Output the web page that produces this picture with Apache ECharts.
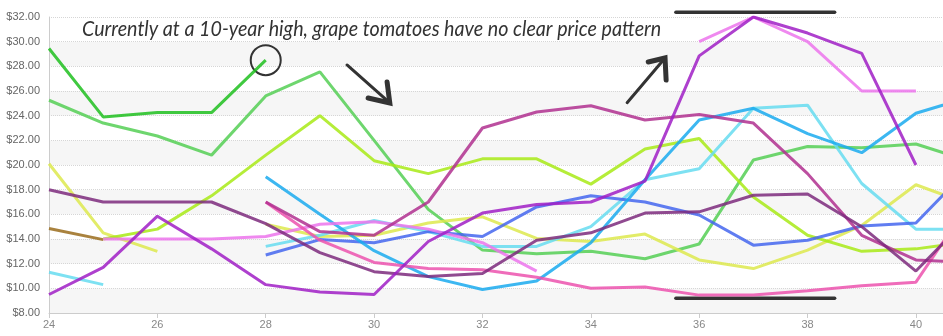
<!DOCTYPE html>
<html>
<head>
<meta charset="utf-8">
<script src="https://cdn.jsdelivr.net/npm/echarts@6/dist/echarts.min.js"></script>
<style>
html,body{margin:0;padding:0;background:#fff;}
#chart{width:943px;height:336px;}
</style>
</head>
<body>
<div id="chart"></div>
<script>
// ---- data ----
var weeks = [24,25,26,27,28,29,30,31,32,33,34,35,36,37,38,39,40,41];
var xTicks = [24,26,28,30,32,34,36,38,40];
var yTicks = [8,10,12,14,16,18,20,22,24,26,28,30,32];

var darkGreen  = [29.45,23.9,24.25,24.25,28.5,null,null,null,null,null,null,null,null,null,null,null,null,null];
var green      = [25.25,23.4,22.35,20.8,25.6,27.55,22.0,16.4,13.1,12.8,13.0,12.4,13.6,20.4,21.5,21.4,21.7,20.3];
var lime       = [null,14.0,14.8,17.5,20.8,24.0,20.35,19.3,20.5,20.5,18.45,21.3,22.15,17.4,14.3,13.0,13.2,13.8];
var yellow     = [20.1,14.5,13.0,null,15.2,14.2,14.3,15.3,15.8,14.05,13.8,14.4,12.3,11.6,13.1,15.1,18.4,16.8];
var brown      = [14.85,13.95,null,null,null,null,null,null,null,null,null,null,null,null,null,null,null,null];
var orchid     = [null,14.0,14.0,14.0,14.2,15.2,15.4,14.8,13.7,11.4,null,null,30.0,32.0,30.0,26.0,26.0,null];
var darkPurple = [18.0,17.0,17.0,17.0,15.25,12.9,11.35,10.95,11.2,13.9,14.5,16.1,16.2,17.55,17.65,15.0,11.4,15.9];
var violet     = [9.5,11.7,15.85,13.2,10.3,9.7,9.5,13.8,16.1,16.8,17.0,18.7,28.85,32.0,30.7,29.05,20.0,null];
var cyan       = [11.3,10.3,null,null,13.4,14.3,15.5,14.6,13.4,13.4,15.0,18.8,19.7,24.6,24.85,18.5,14.8,14.8];
var sky        = [null,null,null,null,19.05,16.0,13.05,10.95,9.9,10.6,13.7,18.8,23.65,24.6,22.55,21.0,24.2,25.5];
var royal      = [null,null,null,null,12.7,13.95,13.7,14.6,14.2,16.6,17.5,17.0,15.95,13.5,13.9,15.05,15.3,19.8];
var magenta    = [null,null,null,null,17.0,14.6,14.3,17.0,23.0,24.3,24.8,23.65,24.1,23.4,19.3,14.3,12.3,12.1];
var hotPink    = [null,null,null,null,17.0,13.9,12.1,11.6,11.5,10.9,10.0,10.1,9.45,9.45,9.8,10.2,10.5,17.0];

var noteText = 'Currently at a 10-year high, grape tomatoes have no clear price pattern';

// ---- styling (kept separate from data) ----
var seriesDefs = [
  {d: brown, c: '#9a6c1c'},
  {d: darkGreen, c: '#1fc01f'},
  {d: green, c: '#55cf55'},
  {d: yellow, c: '#dde94e'},
  {d: lime, c: '#a8ea16'},
  {d: cyan, c: '#66dcf0'},
  {d: royal, c: '#4466ee'},
  {d: sky, c: '#1aaaee'},
  {d: orchid, c: '#ec74ec'},
  {d: hotPink, c: '#ec52ae'},
  {d: magenta, c: '#b0308f'},
  {d: darkPurple, c: '#7c2a7c'},
  {d: violet, c: '#a01ec6'}
];

var chart = echarts.init(document.getElementById('chart'), null, {renderer: 'canvas'});

var series = seriesDefs.map(function (s) {
  return {
    type: 'line',
    data: weeks.map(function (w, i) { return [w, s.d[i]]; }),
    showSymbol: false,
    symbol: 'none',
    connectNulls: false,
    lineStyle: {width: 3, color: s.c, opacity: 0.85},
    itemStyle: {color: s.c},
    emphasis: {disabled: true},
    silent: true
  };
});

chart.setOption({
  animation: false,
  grid: {left: 49, right: 0, top: 17, bottom: 23, containLabel: false},
  xAxis: {
    type: 'value', min: xTicks[0], max: 40.5, interval: 2,
    axisLine: {show: true, lineStyle: {color: '#cccccc', width: 1}},
    axisTick: {show: true, length: 5, lineStyle: {color: '#cccccc'}},
    axisLabel: {color: '#888', fontSize: 11, margin: 6, fontFamily: 'Liberation Sans, Arial, sans-serif', showMaxLabel: false},
    splitLine: {show: false}
  },
  yAxis: {
    type: 'value', min: yTicks[0], max: yTicks[yTicks.length - 1], interval: 2,
    axisLine: {show: true, lineStyle: {color: '#cccccc', width: 1}},
    axisTick: {show: false},
    axisLabel: {
      color: '#666', fontSize: 11, margin: 9, fontFamily: 'Liberation Sans, Arial, sans-serif',
      formatter: function (v) { return '$' + v.toFixed(2); }
    },
    splitLine: {show: true, lineStyle: {type: 'dotted', color: '#d6d6d6', width: 1}},
    splitArea: {show: true, areaStyle: {color: ['#f6f6f6', '#ffffff']}}
  },
  series: series
});

// ---- annotations (in data coordinates, converted to pixels) ----
function px(x, y) { return chart.convertToPixel({gridIndex: 0}, [x, y]); }

var fontSize = 22;
var fontFam = 'Lato, "Open Sans", sans-serif';
var cv = document.createElement('canvas').getContext('2d');
cv.font = 'italic ' + fontSize + 'px ' + fontFam;
var tw = cv.measureText(noteText).width;
var textStart = px(24.61, 31.05);
var textEnd = px(35.3, 31.05);
var sx = (textEnd[0] - textStart[0]) / tw;

var a1s = px(29.50, 28.11), a1e = px(30.29, 25.03), a1h1 = px(29.89, 25.43), a1h2 = px(30.24, 26.73);
var a2s = px(34.67, 25.05), a2e = px(35.37, 28.68), a2h1 = px(35.06, 28.35), a2h2 = px(35.39, 26.89);
var tb1 = px(35.57, 32.38), tb2 = px(38.5, 32.38);
var bb1 = px(35.57, 9.19), bb2 = px(38.5, 9.19);
var cc = px(28, 28.5);

var ink = '#333333';
chart.setOption({
  graphic: [
    {type: 'text', x: textStart[0], y: textStart[1], scaleX: sx, scaleY: 1,
     style: {text: noteText, fill: ink, font: 'italic ' + fontSize + 'px ' + fontFam, textVerticalAlign: 'middle', textAlign: 'left'}},
    {type: 'circle', shape: {cx: cc[0], cy: cc[1], r: 15}, style: {fill: 'none', stroke: ink, lineWidth: 2}},
    {type: 'line', shape: {x1: a1s[0], y1: a1s[1], x2: a1e[0], y2: a1e[1]}, style: {stroke: ink, lineWidth: 3, lineCap: 'round'}},
    {type: 'polyline', shape: {points: [a1h1, a1e, a1h2]}, style: {stroke: ink, fill: 'none', lineWidth: 5, lineCap: 'round', lineJoin: 'miter'}},
    {type: 'line', shape: {x1: a2s[0], y1: a2s[1], x2: a2e[0], y2: a2e[1]}, style: {stroke: ink, lineWidth: 3, lineCap: 'round'}},
    {type: 'polyline', shape: {points: [a2h1, a2e, a2h2]}, style: {stroke: ink, fill: 'none', lineWidth: 5, lineCap: 'round', lineJoin: 'miter'}},
    {type: 'line', shape: {x1: tb1[0], y1: tb1[1], x2: tb2[0], y2: tb2[1]}, style: {stroke: ink, lineWidth: 3.5, lineCap: 'round'}},
    {type: 'line', shape: {x1: bb1[0], y1: bb1[1], x2: bb2[0], y2: bb2[1]}, style: {stroke: ink, lineWidth: 3.5, lineCap: 'round'}}
  ]
});
</script>
</body>
</html>
